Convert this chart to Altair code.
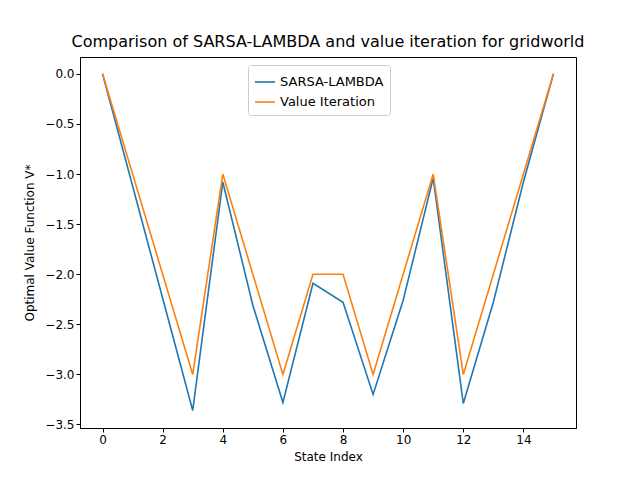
import altair as alt
import pandas as pd

states = list(range(16))
sarsa = [0.0, -1.12, -2.24, -3.36, -1.08, -2.31, -3.28, -2.09, -2.28, -3.2,
         -2.26, -1.04, -3.29, -2.28, -1.08, 0.0]
value_iter = [0, -1, -2, -3, -1, -2, -3, -2, -2, -3, -2, -1, -3, -2, -1, 0]

df = pd.concat([
    pd.DataFrame({"State": states, "V": sarsa, "Method": "SARSA-LAMBDA"}),
    pd.DataFrame({"State": states, "V": value_iter, "Method": "Value Iteration"}),
])

chart = (
    alt.Chart(df)
    .mark_line(strokeWidth=1.6)
    .encode(
        x=alt.X("State:Q", title="State Index",
                scale=alt.Scale(domain=[-0.75, 15.75], nice=False, zero=False),
                axis=alt.Axis(values=list(range(0, 16, 2)), grid=False, titlePadding=6)),
        y=alt.Y("V:Q", title="Optimal Value Function V*",
                scale=alt.Scale(domain=[-3.535, 0.168], nice=False, zero=False),
                axis=alt.Axis(values=[-3.5, -3, -2.5, -2, -1.5, -1, -0.5, 0],
                              format=".1f", grid=False, titlePadding=8)),
        color=alt.Color("Method:N", title=None,
                        scale=alt.Scale(domain=["SARSA-LAMBDA", "Value Iteration"],
                                        range=["#1f77b4", "#ff7f0e"]),
                        legend=alt.Legend(orient="none", legendX=168, legendY=8,
                                          symbolType="stroke", symbolSize=400,
                                          symbolStrokeWidth=1.6,
                                          fillColor="white", strokeColor="#cccccc",
                                          padding=6, cornerRadius=3,
                                          labelFontSize=13)),
    )
    .properties(
        width=496, height=371,
        title=alt.TitleParams("Comparison of SARSA-LAMBDA and value iteration for gridworld",
                              fontSize=16, fontWeight="normal", offset=7),
        autosize=alt.AutoSizeParams(type="none"),
        padding={"left": 72, "top": 49, "right": 56, "bottom": 44},
    )
    .configure(font="DejaVu Sans")
    .configure_axis(domainColor="black", tickColor="black", labelColor="black",
                    titleColor="black", labelFontSize=12, titleFontSize=12,
                    titleFontWeight="normal", tickSize=4)
    .configure_view(stroke="black", strokeWidth=1)
)

chart.save("out.html", embed_options={"renderer": "svg", "actions": False})
